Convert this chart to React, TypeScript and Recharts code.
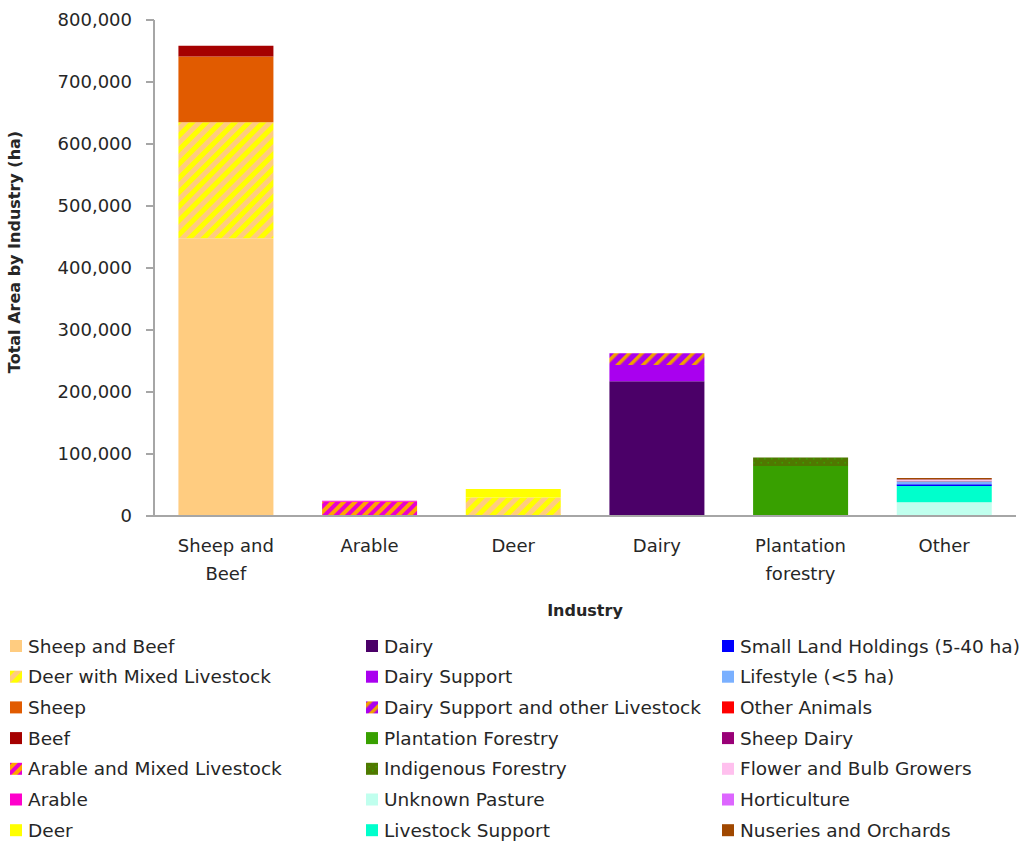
import React from 'react';
import { BarChart, Bar, XAxis, YAxis, Legend } from 'recharts';

const categories = ['Sheep and Beef', 'Arable', 'Deer', 'Dairy', 'Plantation forestry', 'Other'];
const tickLines = [['Sheep and', 'Beef'], ['Arable'], ['Deer'], ['Dairy'], ['Plantation', 'forestry'], ['Other']];
const yTicks = [0, 100000, 200000, 300000, 400000, 500000, 600000, 700000, 800000];

const sheepAndBeef = [448000, 0, 0, 0, 0, 0];
const deerMixed = [187000, 0, 30000, 0, 0, 0];
const sheep = [106000, 0, 0, 0, 0, 0];
const beef = [17500, 0, 0, 0, 0, 0];
const arableMixed = [0, 23000, 0, 0, 0, 0];
const arable = [0, 1500, 0, 0, 0, 0];
const deer = [0, 0, 13500, 0, 0, 0];
const dairy = [0, 0, 0, 217500, 0, 0];
const dairySupport = [0, 0, 0, 26000, 0, 0];
const dairySupportOther = [0, 0, 0, 19000, 0, 0];
const plantation = [0, 0, 0, 0, 80500, 0];
const indigenous = [0, 0, 0, 0, 14000, 0];
const unknownPasture = [0, 0, 0, 0, 0, 22000];
const livestockSupport = [0, 0, 0, 0, 0, 26500];
const smallLand = [0, 0, 0, 0, 0, 2700];
const lifestyle = [0, 0, 0, 0, 0, 5000];
const otherAnimals = [0, 0, 0, 0, 0, 400];
const sheepDairy = [0, 0, 0, 0, 0, 300];
const flowerBulb = [0, 0, 0, 0, 0, 1000];
const horticulture = [0, 0, 0, 0, 0, 800];
const nurseries = [0, 0, 0, 0, 0, 2400];

const seriesNames = [
  'Sheep and Beef', 'Deer with Mixed Livestock', 'Sheep', 'Beef', 'Arable and Mixed Livestock', 'Arable', 'Deer',
  'Dairy', 'Dairy Support', 'Dairy Support and other Livestock', 'Plantation Forestry', 'Indigenous Forestry', 'Unknown Pasture', 'Livestock Support',
  'Small Land Holdings (5-40 ha)', 'Lifestyle (<5 ha)', 'Other Animals', 'Sheep Dairy', 'Flower and Bulb Growers', 'Horticulture', 'Nuseries and Orchards',
];
const seriesValues = [
  sheepAndBeef, deerMixed, sheep, beef, arableMixed, arable, deer,
  dairy, dairySupport, dairySupportOther, plantation, indigenous, unknownPasture, livestockSupport,
  smallLand, lifestyle, otherAnimals, sheepDairy, flowerBulb, horticulture, nurseries,
];
const seriesFills = [
  '#FFCC80', 'url(#patDML)', '#E15B00', '#A50000', 'url(#patAML)', '#FF00CC', '#FFFF00',
  '#4B0068', '#A900EF', 'url(#patDSOL)', '#38A000', 'url(#patIndig)', '#C0FFEE', '#00FFCC',
  '#0000FF', '#7AB0FF', '#FF0000', '#990077', '#FFC0EE', '#DD66FF', '#A04800',
];

const data = categories.map((c, i) => {
  const row: Record<string, string | number> = { industry: c };
  seriesNames.forEach((n, k) => { row['s' + k] = seriesValues[k][i]; });
  return row;
});

const FONT = "'DejaVu Sans', sans-serif";
const AXIS = '#A6A6A6';
const TXT = '#262626';

const Patterns = () => (
  <defs>
    <pattern id="patDML" width="10" height="10" patternUnits="userSpaceOnUse" patternTransform="rotate(45)">
      <rect width="10" height="10" fill="#FFCC80" />
      <rect width="5" height="10" fill="#FFFF00" />
    </pattern>
    <pattern id="patAML" width="8" height="8" patternUnits="userSpaceOnUse" patternTransform="rotate(45)">
      <rect width="8" height="8" fill="#FFA500" />
      <rect width="4" height="8" fill="#E800D0" />
    </pattern>
    <pattern id="patDSOL" width="9" height="9" patternUnits="userSpaceOnUse" patternTransform="rotate(45)">
      <rect width="9" height="9" fill="#AA00EE" />
      <rect width="3.5" height="9" fill="#F0A000" />
    </pattern>
    <pattern id="patIndig" width="7" height="8" patternUnits="userSpaceOnUse">
      <rect width="7" height="8" fill="#507800" />
      <rect x="1" y="2" width="1.5" height="1.5" fill="#3A9F00" />
      <rect x="4.5" y="6" width="1.5" height="1.5" fill="#3A9F00" />
    </pattern>
  </defs>
);

const XTick = (props: any) => {
  const { x, y, payload } = props;
  const idx = categories.indexOf(payload.value);
  const lines = tickLines[idx] || [payload.value];
  return (
    <text x={x} y={y} textAnchor="middle" fill={TXT} fontSize={18} fontFamily={FONT}>
      {lines.map((l, i) => (
        <tspan key={i} x={x} dy={i === 0 ? 36 : 28}>{l}</tspan>
      ))}
    </text>
  );
};

const legendColX = [10, 366, 722];

const LegendContent = () => (
  <svg width={1021} height={843} style={{ position: 'absolute', left: 0, top: 0 }}>
    {seriesNames.map((n, i) => {
      const col = Math.floor(i / 7);
      const row = i % 7;
      const x = legendColX[col];
      const y = 646 + row * 30.7;
      return (
        <g key={n}>
          <rect x={x} y={y - 6} width={12} height={12} fill={seriesFills[i]} />
          <text x={x + 18} y={y} dominantBaseline="central" fontSize={18.5} fontFamily={FONT} fill={TXT}>{n}</text>
        </g>
      );
    })}
  </svg>
);

export default function App() {
  return (
    <div style={{ position: 'absolute', left: 0, top: 0, width: 1021, height: 843, background: '#fff' }}>
      <BarChart
        width={1021}
        height={843}
        data={data}
        margin={{ top: 20, right: 5, left: 0, bottom: 217 }}
        barCategoryGap="17%"
        style={{ fontFamily: FONT }}
      >
        <Patterns />
        <XAxis
          xAxisId="b"
          type="number"
          domain={[0, 6]}
          ticks={[0, 1, 2, 3, 4, 5, 6]}
          tick={false}
          axisLine={false}
          tickLine={{ stroke: AXIS, strokeWidth: 2 }}
          tickSize={7}
          height={0}
          allowDataOverflow
        />
        <XAxis
          dataKey="industry"
          tick={<XTick />}
          tickLine={false}
          tickSize={0}
          tickMargin={0}
          axisLine={{ stroke: AXIS, strokeWidth: 2 }}
          height={110}
          interval={0}
          label={{ value: 'Industry', position: 'insideBottom', offset: 10, style: { fontWeight: 'bold', fontSize: 16, fill: TXT, fontFamily: FONT } }}
        />
        <YAxis
          width={154}
          domain={[0, 800000]}
          ticks={yTicks}
          tickFormatter={(v: number) => v.toLocaleString('en-US')}
          tick={{ fill: TXT, fontSize: 18, fontFamily: FONT }}
          tickSize={8}
          tickMargin={14}
          axisLine={{ stroke: AXIS, strokeWidth: 2 }}
          tickLine={{ stroke: AXIS, strokeWidth: 2 }}
          label={{ value: 'Total Area by Industry (ha)', angle: -90, position: 'insideLeft', offset: 14, dy: -16, style: { textAnchor: 'middle', fontWeight: 'bold', fontSize: 16, fill: TXT, fontFamily: FONT } }}
        />
        {seriesNames.map((n, k) => (
          <Bar key={n} dataKey={'s' + k} name={n} stackId="a" fill={seriesFills[k]} isAnimationActive={false} />
        ))}
        <Legend
          layout="horizontal"
          verticalAlign="middle"
          align="center"
          content={<LegendContent />}
          wrapperStyle={{ left: 0, top: 0, width: 1021, height: 843, pointerEvents: 'none' }}
        />
      </BarChart>
    </div>
  );
}
